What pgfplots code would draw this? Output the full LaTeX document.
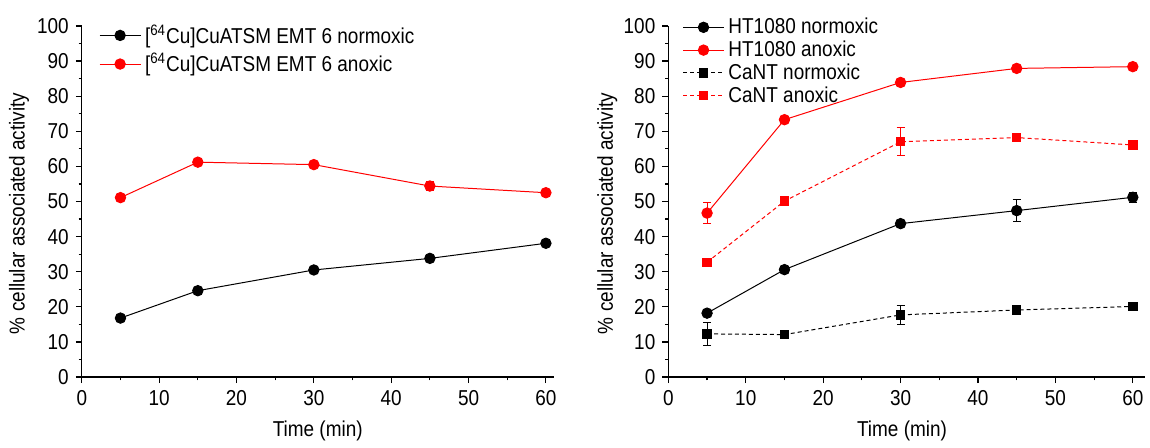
\documentclass[border=0pt]{standalone}
\usepackage{pgfplots}
\pgfplotsset{compat=1.18}
\usepackage{fontspec}
\setmainfont{Liberation Sans}[FakeStretch=0.88]

\definecolor{pred}{RGB}{255,0,0}

\pgfplotsset{
  panel/.style={
    scale only axis, height=176pt,
    axis lines=left, axis line style={-, line width=0.6pt},
    xmin=0, ymin=0, ymax=100,
    xtick={0,10,...,60}, ytick={0,10,...,100},
    minor x tick num=1, minor y tick num=1,
    tick align=outside, major tick length=3pt, minor tick length=1.6pt,
    every tick/.style={line width=0.6pt, black},
    /pgf/number format/assume math mode=true,
    tick label style={font=\fontsize{10.8}{12}\selectfont},
    label style={font=\fontsize{10.8}{12}\selectfont},
    xlabel={Time (min)}, ylabel={\% cellular associated activity},
    legend style={draw=none, fill=none, inner sep=0pt, anchor=north west,
                  font=\fontsize{10.8}{12}\selectfont, cells={anchor=west}},
    legend image code/.code={
      \draw[mark repeat=2, mark phase=2, ##1] plot coordinates {(0cm,0cm) (0.36cm,0cm) (0.72cm,0cm)};},
    clip=false,
  },
  ebar/.style={error bars/.cd, y dir=both, y explicit,
    error bar style={line width=0.5pt, solid},
    error mark options={rotate=90, mark size=2pt, line width=0.5pt, solid}},
}

\begin{document}
\begin{tikzpicture}
\path (0,0) rectangle (575pt,221.5pt);

% left panel: EMT 6
\begin{axis}[panel, at={(41pt,32.5pt)}, anchor=south west,
  width=236.5pt, xmax=61,
  xlabel style={at={(axis description cs:0.5,-0.153)}, anchor=center},
  ylabel style={at={(axis description cs:-0.133,0.466)}, anchor=center},
  legend style={at={(axis description cs:0.036,1.016)}, row sep=-0.4pt},
]
\addplot[black, line width=0.5pt, mark=*, mark size=2.6pt, ebar] coordinates {
  (5,16.8) +- (0,0.8) (15,24.6) +- (0,0.8) (30,30.5) +- (0,0.8)
  (45,33.8) +- (0,0.8) (60,38.1) +- (0,0.9)};
\addlegendentry{[\textsuperscript{64}Cu]CuATSM EMT 6 normoxic}
\addplot[pred, line width=0.5pt, mark=*, mark size=2.6pt, ebar] coordinates {
  (5,51.1) +- (0,0.8) (15,61.2) +- (0,0.9) (30,60.5) +- (0,0.8)
  (45,54.4) +- (0,1.3) (60,52.5) +- (0,0.8)};
\addlegendentry{[\textsuperscript{64}Cu]CuATSM EMT 6 anoxic}
\end{axis}

% right panel: HT1080 and CaNT
\begin{axis}[panel, at={(335pt,32.5pt)}, anchor=south west,
  width=239pt, xmax=61.6,
  xlabel style={at={(axis description cs:0.49,-0.153)}, anchor=center},
  ylabel style={at={(axis description cs:-0.128,0.466)}, anchor=center},
  legend style={at={(axis description cs:0.029,1.035)}, row sep=-1.9pt},
]
\addplot[black, line width=0.5pt, mark=*, mark size=2.6pt, ebar] coordinates {
  (5,18.2) +- (0,0.6) (15,30.6) +- (0,0.6) (30,43.7) +- (0,0.6)
  (45,47.4) +- (0,3.2) (60,51.2) +- (0,1.5)};
\addlegendentry{HT1080 normoxic}
\addplot[pred, line width=0.5pt, mark=*, mark size=2.6pt, ebar] coordinates {
  (5,46.7) +- (0,3.0) (15,73.3) +- (0,0.6) (30,83.9) +- (0,0.6)
  (45,87.9) +- (0,0.6) (60,88.4) +- (0,0.6)};
\addlegendentry{HT1080 anoxic}
\addplot[black, line width=0.5pt, dash pattern=on 2pt off 1.5pt,
  mark=square*, mark size=2.1pt, mark options={solid}, ebar] coordinates {
  (5,12.3) +- (0,3.2) (15,12.1) +- (0,0.6) (30,17.7) +- (0,2.8)
  (45,19.1) +- (0,0.6) (60,20.1) +- (0,0.6)};
\addlegendentry{CaNT normoxic}
\addplot[pred, line width=0.5pt, dash pattern=on 2pt off 1.5pt,
  mark=square*, mark size=2.1pt, mark options={solid}, ebar] coordinates {
  (5,32.7) +- (0,0.6) (15,50.1) +- (0,0.6) (30,67.0) +- (0,4.0)
  (45,68.2) +- (0,0.9) (60,66.1) +- (0,0.6)};
\addlegendentry{CaNT anoxic}
\end{axis}
\end{tikzpicture}
\end{document}
